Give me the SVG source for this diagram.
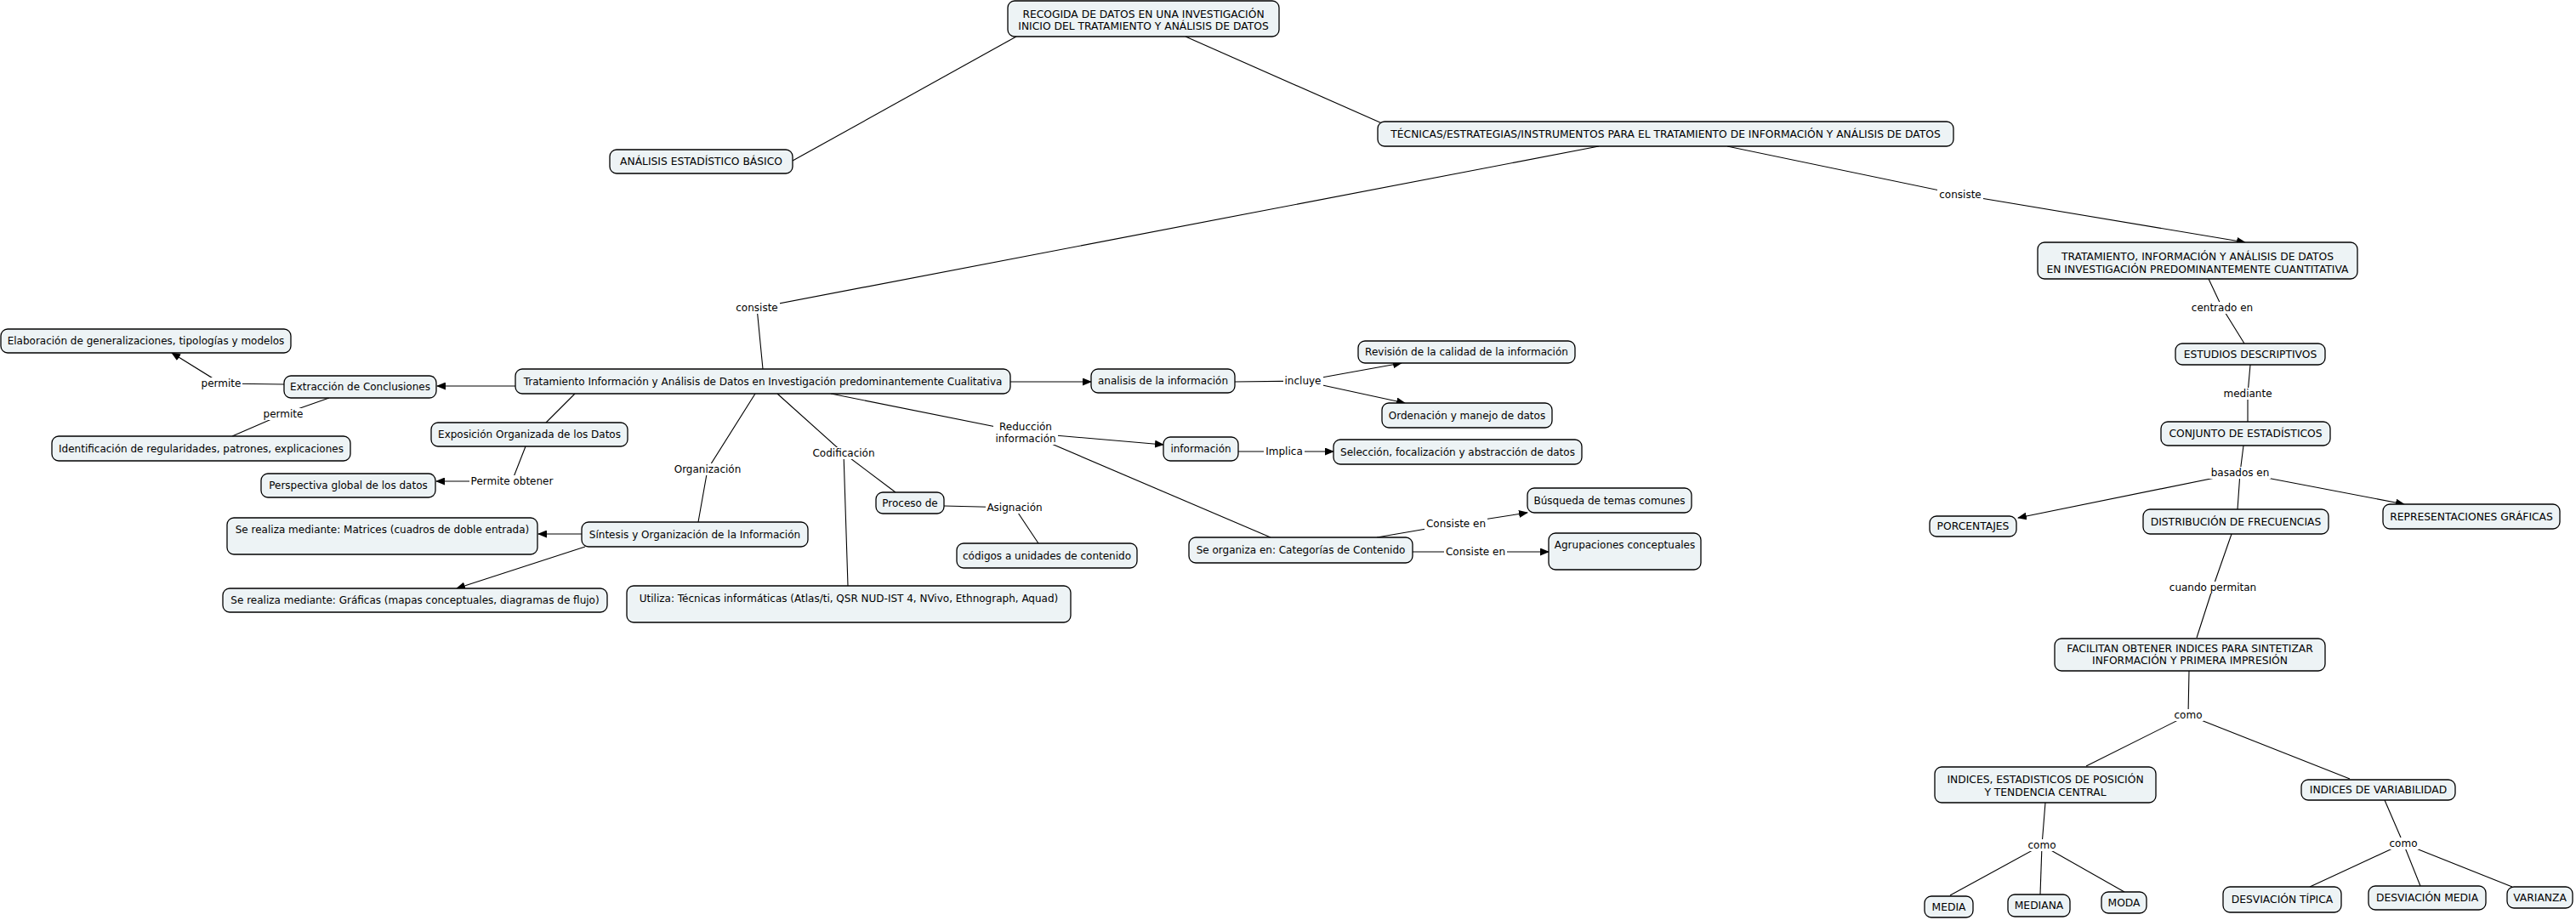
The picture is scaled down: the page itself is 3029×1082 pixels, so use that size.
<svg xmlns="http://www.w3.org/2000/svg" width="3029" height="1082" viewBox="0 0 3029 1082">
<defs>
<marker id="arr" markerUnits="userSpaceOnUse" markerWidth="11" markerHeight="9" refX="10" refY="4.5" orient="auto">
<path d="M0,0 L11,4.5 L0,9 z" fill="#000"/>
</marker>
<style>
.n rect{fill:#edf3f5;stroke:#000;stroke-width:1.3}
.n text, .lb text{font-family:"DejaVu Sans",Verdana,sans-serif;font-size:12px;fill:#000;text-anchor:middle}
.n.u text{font-size:12.3px}
.c line,.c polyline{stroke:#000;stroke-width:1.1;fill:none}
.a{marker-end:url(#arr)}
.lb rect{fill:#fff;stroke:none}
</style>
</defs>
<rect width="3029" height="1082" fill="#fff"/>
<g id="connectors" class="c">
<line x1="1195" y1="43" x2="932" y2="189"/>
<line x1="1394" y1="43" x2="1625" y2="145"/>
<polyline points="1880,172 890,362 897,434"/>
<polyline class="a" points="2031,172 2305,229 2640,285"/>
<polyline points="2597,328 2613,362 2639,404"/>
<polyline points="2646,429 2643,463 2643,496"/>
<polyline points="2638,524 2634,556 2631,599"/>
<line class="a" x1="2634" y1="556" x2="2373" y2="609"/>
<line class="a" x1="2634" y1="556" x2="2827" y2="593"/>
<polyline points="2624,628 2602,691 2583,750"/>
<polyline points="2574,789 2573,841 2453,901"/>
<line x1="2573" y1="841" x2="2763" y2="916"/>
<polyline points="2405,944 2401,994 2293,1053"/>
<line x1="2401" y1="994" x2="2399" y2="1052"/>
<line x1="2401" y1="994" x2="2498" y2="1049"/>
<polyline points="2804,941 2826,992 2716,1043"/>
<line x1="2826" y1="992" x2="2846" y2="1042"/>
<line x1="2826" y1="992" x2="2954" y2="1043"/>
<line class="a" x1="606" y1="454" x2="514" y2="454"/>
<polyline class="a" points="334,452 260,451 202,415"/>
<polyline points="387,468 333,487 273,513"/>
<line x1="676" y1="463" x2="642" y2="497"/>
<polyline class="a" points="618,525 602,566 513,566"/>
<polyline points="888,463 832,552 821,614"/>
<line class="a" x1="684" y1="628" x2="633" y2="628"/>
<line class="a" x1="688" y1="643" x2="537" y2="692"/>
<polyline points="914,463 992,533 997,689"/>
<line x1="992" y1="533" x2="1053" y2="579"/>
<polyline points="1110,595 1193,597 1221,639"/>
<line class="a" x1="1188" y1="449" x2="1283" y2="449"/>
<polyline class="a" points="1452,449 1532,448 1648,427"/>
<line class="a" x1="1532" y1="448" x2="1652" y2="474"/>
<polyline class="a" points="977,463 1206,509 1368,523"/>
<line x1="1206" y1="509" x2="1494" y2="632"/>
<polyline class="a" points="1456,531 1510,531 1568,531"/>
<polyline class="a" points="1619,632 1712,616 1796,603"/>
<polyline class="a" points="1661,649 1735,649 1821,649"/>
<g class="lb">
<rect x="863" y="355" width="54" height="14"/><text x="890" y="366">consiste</text>
<rect x="2278" y="222" width="54" height="14"/><text x="2305" y="233">consiste</text>
<rect x="2575" y="355" width="76" height="14"/><text x="2613" y="366">centrado en</text>
<rect x="2612" y="456" width="61" height="14"/><text x="2643" y="467">mediante</text>
<rect x="2597" y="549" width="73" height="14"/><text x="2634" y="560">basados en</text>
<rect x="2548" y="684" width="107" height="14"/><text x="2602" y="695">cuando permitan</text>
<rect x="2554" y="834" width="37" height="14"/><text x="2573" y="845">como</text>
<rect x="2382" y="987" width="37" height="14"/><text x="2401" y="998">como</text>
<rect x="2807" y="985" width="37" height="14"/><text x="2826" y="996">como</text>
<rect x="234" y="444" width="51" height="14"/><text x="260" y="455">permite</text>
<rect x="307" y="480" width="51" height="14"/><text x="333" y="491">permite</text>
<rect x="552" y="559" width="101" height="14"/><text x="602" y="570">Permite obtener</text>
<rect x="790" y="545" width="83" height="14"/><text x="832" y="556">Organización</text>
<rect x="954" y="526" width="77" height="14"/><text x="992" y="537">Codificación</text>
<rect x="1159" y="590" width="69" height="14"/><text x="1193" y="601">Asignación</text>
<rect x="1509" y="441" width="47" height="14"/><text x="1532" y="452">incluye</text>
<rect x="1168" y="495" width="76" height="28"/><text x="1206" y="506">Reducción</text><text x="1206" y="520">información</text>
<rect x="1486" y="524" width="48" height="14"/><text x="1510" y="535">Implica</text>
<rect x="1675" y="609" width="74" height="14"/><text x="1712" y="620">Consiste en</text>
<rect x="1698" y="642" width="74" height="14"/><text x="1735" y="653">Consiste en</text>
</g>
</g>
<g id="recogida" class="n u"><rect x="1185" y="1" width="319" height="42" rx="8"/><text x="1344.5" y="21">RECOGIDA DE DATOS EN UNA INVESTIGACIÓN</text><text x="1344.5" y="35">INICIO DEL TRATAMIENTO Y ANÁLISIS DE DATOS</text></g>
<g id="analisis-basico" class="n u"><rect x="717" y="176" width="215" height="28" rx="8"/><text x="824.5" y="194">ANÁLISIS ESTADÍSTICO BÁSICO</text></g>
<g id="tecnicas" class="n u"><rect x="1620" y="143" width="677" height="29" rx="8"/><text x="1958.5" y="162">TÉCNICAS/ESTRATEGIAS/INSTRUMENTOS PARA EL TRATAMIENTO DE INFORMACIÓN Y ANÁLISIS DE DATOS</text></g>
<g id="cuantitativa" class="n u"><rect x="2396" y="285" width="376" height="43" rx="8"/><text x="2584" y="306">TRATAMIENTO, INFORMACIÓN Y ANÁLISIS DE DATOS</text><text x="2584" y="321">EN INVESTIGACIÓN PREDOMINANTEMENTE CUANTITATIVA</text></g>
<g id="estudios" class="n u"><rect x="2558" y="404" width="176" height="25" rx="8"/><text x="2646" y="421">ESTUDIOS DESCRIPTIVOS</text></g>
<g id="conjunto" class="n u"><rect x="2541" y="496" width="199" height="28" rx="8"/><text x="2640.5" y="514">CONJUNTO DE ESTADÍSTICOS</text></g>
<g id="porcentajes" class="n u"><rect x="2269" y="607" width="102" height="24" rx="8"/><text x="2320" y="623">PORCENTAJES</text></g>
<g id="distribucion" class="n u"><rect x="2520" y="599" width="218" height="29" rx="8"/><text x="2629" y="618">DISTRIBUCIÓN DE FRECUENCIAS</text></g>
<g id="representaciones" class="n u"><rect x="2802" y="593" width="208" height="29" rx="8"/><text x="2906" y="612">REPRESENTACIONES GRÁFICAS</text></g>
<g id="facilitan" class="n u"><rect x="2416" y="751" width="318" height="38" rx="8"/><text x="2575" y="767">FACILITAN OBTENER INDICES PARA SINTETIZAR</text><text x="2575" y="781">INFORMACIÓN Y PRIMERA IMPRESIÓN</text></g>
<g id="indices-posicion" class="n u"><rect x="2275" y="902" width="260" height="42" rx="8"/><text x="2405" y="921">INDICES, ESTADISTICOS DE POSICIÓN</text><text x="2405" y="936">Y TENDENCIA CENTRAL</text></g>
<g id="indices-variabilidad" class="n u"><rect x="2706" y="917" width="181" height="24" rx="8"/><text x="2796.5" y="933">INDICES DE VARIABILIDAD</text></g>
<g id="media" class="n u"><rect x="2263" y="1054" width="57" height="25" rx="8"/><text x="2291.5" y="1071">MEDIA</text></g>
<g id="mediana" class="n u"><rect x="2361" y="1052" width="73" height="26" rx="8"/><text x="2397.5" y="1069">MEDIANA</text></g>
<g id="moda" class="n u"><rect x="2471" y="1049" width="53" height="25" rx="8"/><text x="2497.5" y="1066">MODA</text></g>
<g id="desv-tipica" class="n u"><rect x="2614" y="1043" width="139" height="30" rx="8"/><text x="2683.5" y="1062">DESVIACIÓN TÍPICA</text></g>
<g id="desv-media" class="n u"><rect x="2785" y="1042" width="138" height="28" rx="8"/><text x="2854" y="1060">DESVIACIÓN MEDIA</text></g>
<g id="varianza" class="n u"><rect x="2948" y="1043" width="77" height="25" rx="8"/><text x="2986.5" y="1060">VARIANZA</text></g>
<g id="cualitativa" class="n"><rect x="606" y="434" width="582" height="29" rx="8"/><text x="897" y="453">Tratamiento Información y Análisis de Datos en Investigación predominantemente Cualitativa</text></g>
<g id="extraccion" class="n"><rect x="334" y="442" width="179" height="26" rx="8"/><text x="423.5" y="459">Extracción de Conclusiones</text></g>
<g id="elaboracion" class="n"><rect x="1" y="387" width="341" height="28" rx="8"/><text x="171.5" y="405">Elaboración de generalizaciones, tipologías y modelos</text></g>
<g id="identificacion" class="n"><rect x="61" y="513" width="351" height="29" rx="8"/><text x="236.5" y="532">Identificación de regularidades, patrones, explicaciones</text></g>
<g id="exposicion" class="n"><rect x="507" y="497" width="231" height="28" rx="8"/><text x="622.5" y="515">Exposición Organizada de los Datos</text></g>
<g id="perspectiva" class="n"><rect x="307" y="557" width="205" height="28" rx="8"/><text x="409.5" y="575">Perspectiva global de los datos</text></g>
<g id="sintesis" class="n"><rect x="684" y="614" width="266" height="29" rx="8"/><text x="817" y="633">Síntesis y Organización de la Información</text></g>
<g id="matrices" class="n"><rect x="267" y="609" width="365" height="43" rx="8"/><text x="449.5" y="627">Se realiza mediante: Matrices (cuadros de doble entrada)</text></g>
<g id="graficas" class="n"><rect x="262" y="692" width="452" height="28" rx="8"/><text x="488" y="710">Se realiza mediante: Gráficas (mapas conceptuales, diagramas de flujo)</text></g>
<g id="utiliza" class="n"><rect x="737" y="689" width="522" height="43" rx="8"/><text x="998" y="708">Utiliza: Técnicas informáticas (Atlas/ti, QSR NUD-IST 4, NVivo, Ethnograph, Aquad)</text></g>
<g id="proceso" class="n"><rect x="1030" y="579" width="80" height="25" rx="8"/><text x="1070" y="596">Proceso de</text></g>
<g id="codigos" class="n"><rect x="1125" y="639" width="212" height="29" rx="8"/><text x="1231" y="658">códigos a unidades de contenido</text></g>
<g id="analisis-info" class="n"><rect x="1283" y="434" width="169" height="28" rx="8"/><text x="1367.5" y="452">analisis de la información</text></g>
<g id="revision" class="n"><rect x="1597" y="401" width="255" height="26" rx="8"/><text x="1724.5" y="418">Revisión de la calidad de la información</text></g>
<g id="ordenacion" class="n"><rect x="1625" y="474" width="200" height="29" rx="8"/><text x="1725" y="493">Ordenación y manejo de datos</text></g>
<g id="informacion" class="n"><rect x="1368" y="514" width="88" height="28" rx="8"/><text x="1412" y="532">información</text></g>
<g id="seleccion" class="n"><rect x="1568" y="517" width="292" height="29" rx="8"/><text x="1714" y="536">Selección, focalización y abstracción de datos</text></g>
<g id="busqueda" class="n"><rect x="1796" y="574" width="193" height="29" rx="8"/><text x="1892.5" y="593">Búsqueda de temas comunes</text></g>
<g id="se-organiza" class="n"><rect x="1398" y="632" width="263" height="30" rx="8"/><text x="1529.5" y="651">Se organiza en: Categorías de Contenido</text></g>
<g id="agrupaciones" class="n"><rect x="1821" y="627" width="179" height="43" rx="8"/><text x="1910.5" y="645">Agrupaciones conceptuales</text></g>
</svg>
